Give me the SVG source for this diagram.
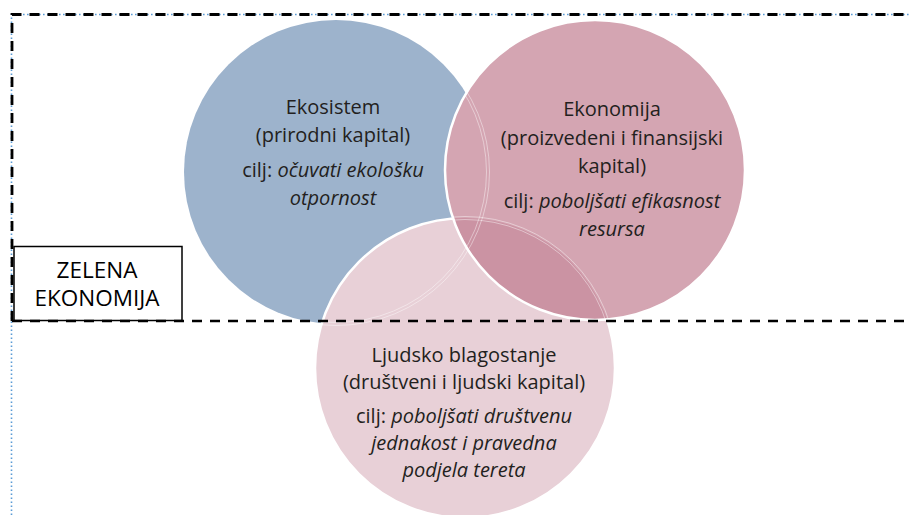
<svg xmlns="http://www.w3.org/2000/svg" width="909" height="515" viewBox="0 0 909 515">
<style>
  .t { font-family: "Open Sans", "Noto Sans", "DejaVu Sans", sans-serif; font-size: 20px; fill: #231F20; text-anchor: middle; }
  .it { font-style: italic; }
  .box { font-family: "Open Sans", "Noto Sans", "DejaVu Sans", sans-serif; font-size: 22.5px; fill: #000; text-anchor: middle; }
  .edge { fill: none; stroke: #FFFFFF; stroke-width: 2.5; }
  .faint { fill: none; stroke: #FFFFFF; stroke-width: 0.8; stroke-opacity: 0.55; }
</style>
<defs>
  <clipPath id="clipEko"><circle cx="595" cy="170" r="150"/></clipPath>
  <clipPath id="clipUnion"><circle cx="595" cy="170" r="150"/><circle cx="465" cy="368" r="150"/></clipPath>
</defs>
<rect x="0" y="0" width="909" height="515" fill="#FFFFFF"/>

<g id="ekosistem">
  <circle cx="336" cy="172" r="152" fill="#9DB3CC"/>
</g>

<g id="ljudsko-blagostanje">
  <circle cx="465" cy="368" r="150" fill="#E8D0D7" class="edge" style="fill:#E8D0D7"/>
</g>

<g id="ekonomija">
  <circle cx="595" cy="170" r="150" fill="#D4A5B2"/>
  <circle cx="465" cy="368" r="150" fill="#CB93A3" clip-path="url(#clipEko)"/>
  <g clip-path="url(#clipUnion)">
    <circle cx="336" cy="172" r="150.5" class="faint"/>
    <circle cx="336" cy="172" r="153.5" class="faint"/>
  </g>
  <g clip-path="url(#clipEko)">
    <circle cx="465" cy="368" r="148.5" class="faint"/>
    <circle cx="465" cy="368" r="151.5" class="faint"/>
  </g>
  <circle cx="595" cy="170" r="150" class="edge"/>
</g>

<g id="ekosistem-label">
  <text class="t" x="333" y="114">Ekosistem</text>
  <text class="t" x="333" y="142">(prirodni kapital)</text>
  <text class="t" x="333" y="177">cilj: <tspan class="it">očuvati ekološku</tspan></text>
  <text class="t" x="333" y="205"><tspan class="it">otpornost</tspan></text>
</g>

<g id="ekonomija-label">
  <text class="t" x="612" y="116">Ekonomija</text>
  <text class="t" x="612" y="145">(proizvedeni i finansijski</text>
  <text class="t" x="612" y="173">kapital)</text>
  <text class="t" x="612" y="208">cilj: <tspan class="it">poboljšati efikasnost</tspan></text>
  <text class="t" x="612" y="236"><tspan class="it">resursa</tspan></text>
</g>

<g id="ljudsko-label">
  <text class="t" x="464" y="362">Ljudsko blagostanje</text>
  <text class="t" x="464" y="389">(društveni i ljudski kapital)</text>
  <text class="t" x="464" y="423">cilj: <tspan class="it">poboljšati društvenu</tspan></text>
  <text class="t" x="464" y="450"><tspan class="it">jednakost i pravedna</tspan></text>
  <text class="t" x="464" y="477"><tspan class="it">podjela tereta</tspan></text>
</g>

<g id="zelena-ekonomija">
  <rect x="14" y="246.5" width="168" height="74" fill="#FFFFFF" stroke="#000000" stroke-width="1.5"/>
  <text class="box" x="97" y="278">ZELENA</text>
  <text class="box" x="97" y="306">EKONOMIJA</text>
</g>

<g id="frame">
  <path d="M11.5,515 V14.5 H909" fill="none" stroke="#5B9BD5" stroke-width="1.6" stroke-dasharray="1.6 2.4"/>
  <path d="M12,321 V14.5 H909" fill="none" stroke="#000000" stroke-width="2.8" stroke-dasharray="10 8"/>
  <path d="M12,321 H909" fill="none" stroke="#000000" stroke-width="2.6" stroke-dasharray="10 8"/>
</g>
</svg>
